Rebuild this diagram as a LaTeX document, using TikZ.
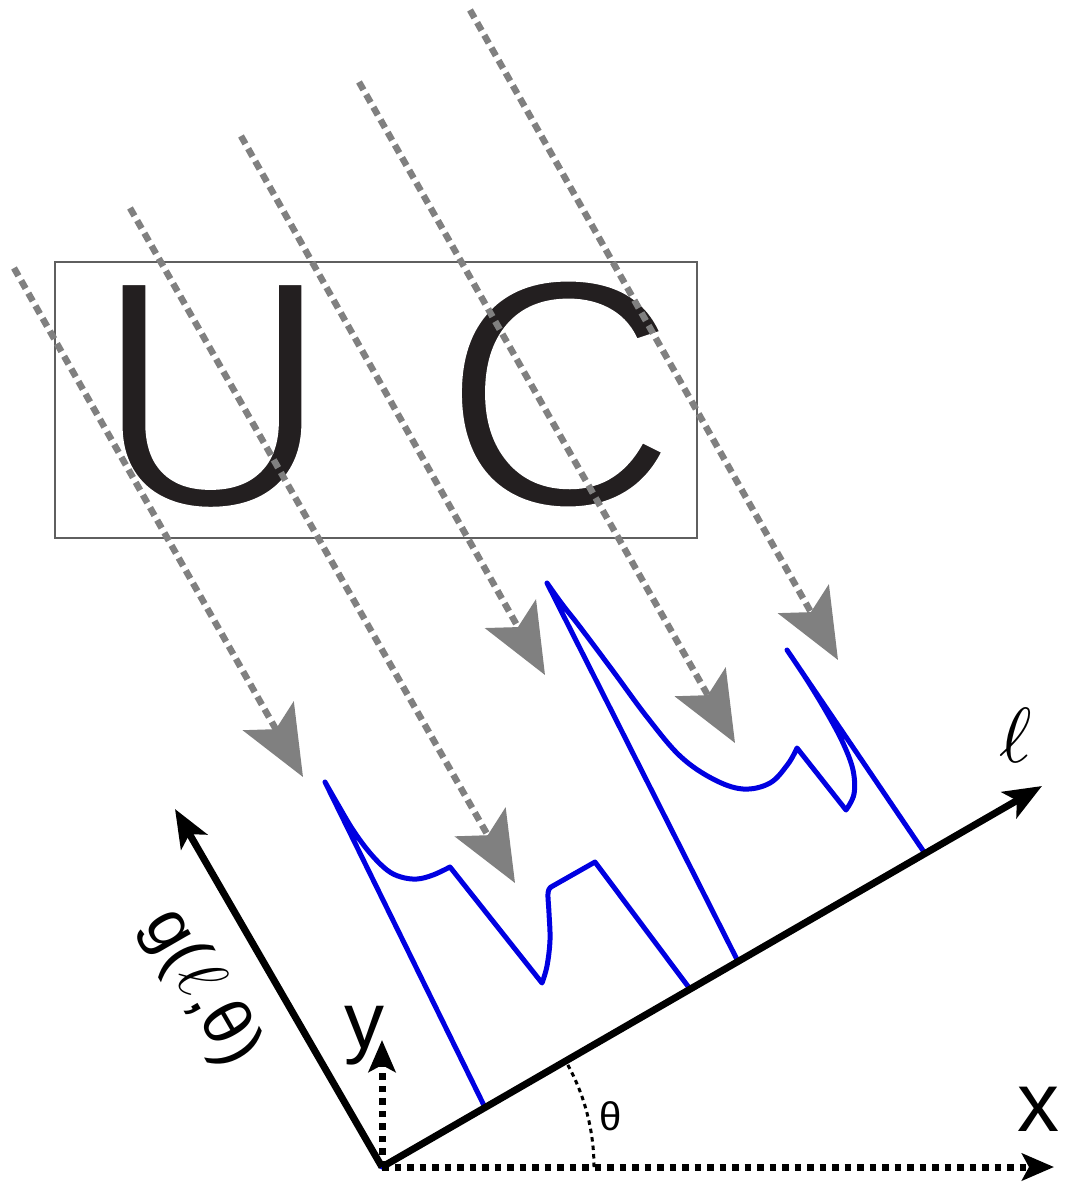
\documentclass[tikz,border=0pt]{standalone}
\usepackage{fontspec}
\usepackage{graphicx}
\setmainfont{Liberation Sans}
\usetikzlibrary{arrows.meta}
\definecolor{raygray}{RGB}{128,128,128}
\definecolor{boxgray}{RGB}{95,95,95}
\definecolor{inkblack}{RGB}{35,31,32}
\definecolor{profblue}{RGB}{0,0,225}
% thin the big letters: fill, then stroke the outline in white
\newcommand{\thinglyphs}[1]{\special{pdf:literal direct 2 Tr 1 1 1 RG 8 w}#1\special{pdf:literal direct 0 Tr}}
\begin{document}
\begin{tikzpicture}[x=1pt,y=-1pt,
  ray/.style={draw=raygray, line width=6.5pt, dash pattern=on 9pt off 5.5pt,
    -{Stealth[length=70pt,width=58pt,inset=15pt,fill=raygray,color=raygray]}},
  axisline/.style={draw=black, line width=7pt, -{Stealth[length=38pt,width=30pt,inset=9pt]}},
  dotaxis/.style={draw=black, line width=7pt, dash pattern=on 6.5pt off 6pt,
    -{Stealth[length=32pt,width=27pt,inset=7pt]}},
  profile/.style={draw=profblue, line width=5pt, line join=round, line cap=round},
  bigletter/.style={inner sep=0pt, text=inkblack, font=\fontsize{329}{329}\selectfont},
  lbl/.style={inner sep=0pt, text=black}
]
\useasboundingbox[fill=white] (0,0) rectangle (1068,1185);

% frame and letters
\node[draw=boxgray, line width=2pt, minimum width=642pt, minimum height=276pt, inner sep=0pt] (frame) at (376,400) {};
\node[bigletter] (U) at (212,396) {\thinglyphs{U}};
\node[bigletter] (C) at (560,394) {\thinglyphs{C}};

% axes coordinates
\coordinate (O) at (382,1167);
\coordinate (Ltip) at (1042,786);
\coordinate (Gtip) at (175,809);
\coordinate (Xtip) at (1054,1167);
\coordinate (Ytip) at (382,1040);

% profile g(l,theta)
\draw[profile] (O) -- (485,1107.5)
  -- plot[smooth, tension=0.6] coordinates {(325,782) (337,803) (353,830) (370,853) (387,870) (401,877) (417,879) (433,875) (450,867)}
  -- plot[smooth, tension=0.6] coordinates {(542,983) (547,966) (550,940) (549,913) (548,893) (551,887)}
  -- (595,862) -- (690,989) -- (738,961.5)
  -- plot[smooth, tension=0.6] coordinates {(547,583) (562,604) (580,627) (613,671) (647,717) (680,756) (713,779) (743,789) (770,783) (788,764) (797,748)}
  -- plot[smooth, tension=0.6] coordinates {(846,810) (854,794) (853,770) (843,743) (827,713) (807,680) (787,650)}
  -- (925,853.5) -- (1010,804.4);

% main axes
\draw[axisline] (O) -- (Ltip);
\draw[axisline] (O) -- (Gtip);
\draw[dotaxis] (O) -- (Xtip);
\draw[dotaxis] (O) -- (Ytip);

% theta arc
\draw[black, line width=3pt, dash pattern=on 4.5pt off 4pt]
  plot[domain=0:30, samples=30] ({382+212*cos(\x)},{1167-212*sin(\x)});

% labels
\node[lbl, font=\fontsize{40}{40}\selectfont] (thetalbl) at (611,1116) {θ};
\node[lbl, font=\fontsize{84}{84}\selectfont] (xlbl) at (1038,1109) {x};
\node[lbl, font=\fontsize{80}{80}\selectfont] (ylbl) at (364,1036) {y};
\node[lbl] (llbl) at (1016,735) {\scalebox{7.8}{$\ell$}};
\node[lbl, font=\fontsize{68}{68}\selectfont, rotate=-60] (glbl) at (201,988) {g(\scalebox{2.85}{$\ell$},θ)};

% projection rays
\foreach \sx/\sy/\ex/\ey [count=\i] in {14/268/303/777, 130/208/515/883, 241/136/545/675, 359/82/735/743, 470/10/838/660} {
  \coordinate (rs\i) at (\sx,\sy);
  \coordinate (re\i) at (\ex,\ey);
  \draw[ray] (rs\i) -- (re\i);
}
\end{tikzpicture}
\end{document}
